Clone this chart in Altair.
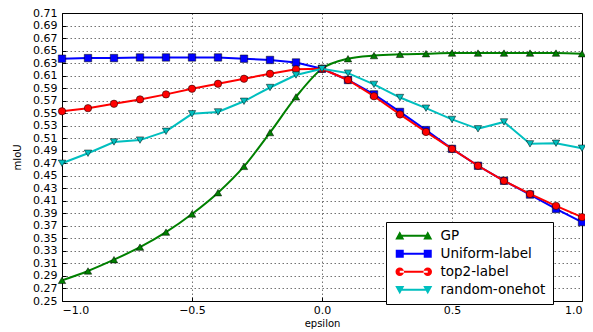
import altair as alt
import pandas as pd

eps = [-1.0, -0.9, -0.8, -0.7, -0.6, -0.5, -0.4, -0.3, -0.2, -0.1, 0.0,
       0.1, 0.2, 0.3, 0.4, 0.5, 0.6, 0.7, 0.8, 0.9, 1.0]
series_names = ["GP", "Uniform-label", "top2-label", "random-onehot"]
gp = [0.283, 0.298, 0.316, 0.336, 0.360, 0.389, 0.423, 0.465, 0.519, 0.576, 0.621,
      0.637, 0.642, 0.644, 0.645, 0.646, 0.646, 0.646, 0.646, 0.646, 0.645]
uniform = [0.637, 0.638, 0.638, 0.639, 0.639, 0.639, 0.639, 0.637, 0.635, 0.631, 0.621,
           0.603, 0.580, 0.552, 0.523, 0.493, 0.466, 0.442, 0.420, 0.397, 0.376]
top2 = [0.553, 0.558, 0.565, 0.572, 0.580, 0.589, 0.597, 0.605, 0.613, 0.620, 0.621,
        0.603, 0.577, 0.548, 0.520, 0.493, 0.466, 0.442, 0.421, 0.402, 0.384]
onehot = [0.470, 0.486, 0.504, 0.507, 0.521, 0.549, 0.552, 0.569, 0.591, 0.611, 0.621,
          0.614, 0.596, 0.575, 0.558, 0.540, 0.525, 0.536, 0.501, 0.502, 0.494]
colors = ["#008000", "#0000ff", "#ff0000", "#00bfbf"]
shapes = ["triangle-up", "square", "circle", "triangle-down"]
x_ticks = [-1.0, -0.5, 0.0, 0.5, 1.0]
y_ticks = [0.25, 0.27, 0.29, 0.31, 0.33, 0.35, 0.37, 0.39, 0.41, 0.43, 0.45, 0.47,
           0.49, 0.51, 0.53, 0.55, 0.57, 0.59, 0.61, 0.63, 0.65, 0.67, 0.69, 0.71]

rows = []
for name, vals in zip(series_names, [gp, uniform, top2, onehot]):
    for e, v in zip(eps, vals):
        rows.append({"epsilon": e, "mIoU": v, "series": name})
df = pd.DataFrame(rows)

# legend glyphs (units of 5 px): a line segment with a marker at each end,
# drawn to the right of the symbol anchor
C1, C2 = 0.0, 5.6


def bar():
    return f"M{C1},-0.2 L{C2},-0.2 L{C2},0.2 L{C1},0.2 Z "


def tri_up(c):
    return f"M{c-0.9},0.75 L{c},-0.9 L{c+0.9},0.75 Z "


def tri_down(c):
    return f"M{c-0.9},-0.75 L{c+0.9},-0.75 L{c},0.9 Z "


def square(c):
    return f"M{c-0.8},-0.8 L{c+0.8},-0.8 L{c+0.8},0.8 L{c-0.8},0.8 Z "


def circle(c):
    r = 0.85
    return f"M{c-r},0 A{r},{r} 0 1,0 {c+r},0 A{r},{r} 0 1,0 {c-r},0 Z "


legend_paths = [
    bar() + tri_up(C1) + tri_up(C2),
    bar() + square(C1) + square(C2),
    bar() + circle(C1) + circle(C2),
    bar() + tri_down(C1) + tri_down(C2),
]

# axes are pulled 4 px inside the frame so that their ticks point inward
x_enc = alt.X("epsilon:Q",
              scale=alt.Scale(domain=[-1, 1], nice=False, zero=False),
              axis=alt.Axis(values=x_ticks, format=".1f", title="epsilon",
                            offset=-4, tickSize=4, domain=False,
                            titlePadding=3, labelPadding=3))
y_enc = alt.Y("mIoU:Q",
              scale=alt.Scale(domain=[0.25, 0.71], nice=False, zero=False),
              axis=alt.Axis(values=y_ticks, format=".2f", title="mIoU",
                            offset=-4, tickSize=4, domain=False,
                            titlePadding=10, labelPadding=5))

base = alt.Chart(df)

legend_cfg = alt.Legend(title=None, orient="none", legendX=324, legendY=209,
                        symbolOpacity=1, symbolStrokeWidth=0)
legend_layer = base.mark_point(filled=True, opacity=0).encode(
    x=x_enc, y=y_enc,
    fill=alt.Fill("series:N", scale=alt.Scale(domain=series_names, range=colors),
                  legend=legend_cfg),
    shape=alt.Shape("series:N", scale=alt.Scale(domain=series_names, range=legend_paths),
                    legend=legend_cfg),
)

layers = [legend_layer]
for name, col, shp in zip(series_names, colors, shapes):
    sub = base.transform_filter(alt.datum.series == name)
    line = sub.mark_line(color=col, strokeWidth=2,
                         interpolate="monotone" if name == "GP" else "linear").encode(
        x=x_enc, y=y_enc)
    pts = sub.mark_point(shape=shp, filled=True, fill=col, stroke="black",
                         strokeWidth=0.5, size=55, opacity=1).encode(x=x_enc, y=y_enc)
    layers += [line, pts]

chart = alt.layer(*layers).properties(
    width=520, height=288,
    autosize=alt.AutoSizeParams(type="none"),
    padding={"left": 54, "top": 5, "right": 3, "bottom": 30},
).configure_axis(
    labelFont="DejaVu Sans", labelFontSize=11, labelColor="black",
    titleFont="DejaVu Sans", titleFontSize=10, titleFontWeight="normal", titleColor="black",
    tickColor="black", tickWidth=1,
    gridColor="black", gridOpacity=0.55, gridDash=[1.5, 2.5], gridWidth=1,
).configure_view(
    stroke="black", strokeWidth=1
).configure_legend(
    labelFont="DejaVu Sans", labelFontSize=13.5, labelColor="black",
    strokeColor="black", fillColor="white", padding=7, cornerRadius=0,
    symbolSize=100, rowPadding=3, labelOffset=34,
)

chart.save("out.html", embed_options={"renderer": "svg", "actions": False})
